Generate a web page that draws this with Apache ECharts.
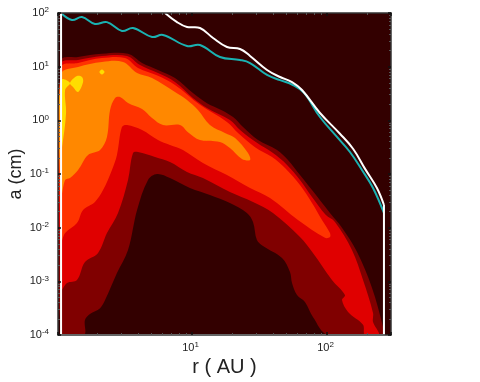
<!DOCTYPE html>
<html>
<head>
<meta charset="utf-8">
<style>
  html, body { margin: 0; padding: 0; background: #fff; }
  #chart { width: 480px; height: 382px; }
</style>
<script src="https://cdn.jsdelivr.net/npm/echarts@6/dist/echarts.min.js"></script>
</head>
<body>
<div id="chart"></div>
<script>
// all contours and curves are [log10 r, log10 a]
const level1 = [[0.03,-4],[0.03,1.11],[0.156,1.18],[0.333,1.24],[0.526,1.24],[0.63,1.07],[0.748,0.94],[0.874,0.79],[1.007,0.51],[1.111,0.32],[1.22,0.19],[1.304,0.06],[1.378,-0.125],[1.489,-0.367],[1.63,-0.553],[1.711,-0.739],[1.8,-1.02],[1.889,-1.3],[2.022,-1.726],[2.111,-2.0],[2.222,-2.45],[2.333,-3.12],[2.415,-3.85],[2.42,-4],[2.007,-4],[1.896,-3.665],[1.837,-3.385],[1.778,-3.255],[1.741,-3.03],[1.726,-2.826],[1.667,-2.565],[1.526,-2.34],[1.481,-2.23],[1.452,-1.894],[1.407,-1.726],[1.281,-1.54],[1.133,-1.39],[0.985,-1.26],[0.837,-1.074],[0.741,-1],[0.674,-1.11],[0.593,-1.67],[0.526,-2.416],[0.444,-2.845],[0.356,-3.35],[0.319,-3.5],[0.244,-3.61],[0.207,-3.72],[0.2,-4]]
const level2 = [[0.03,-3.16],[0.03,1.05],[0.156,1.124],[0.333,1.2],[0.519,1.2],[0.615,1.03],[0.748,0.88],[0.874,0.714],[1.007,0.416],[1.111,0.23],[1.281,0.006],[1.356,-0.18],[1.481,-0.42],[1.6,-0.61],[1.704,-0.83],[1.8,-1.11],[1.889,-1.43],[1.99,-1.76],[2.059,-1.894],[2.185,-2.416],[2.267,-2.975],[2.341,-3.59],[2.341,-3.76],[2.385,-4],[2.281,-4],[2.267,-3.81],[2.156,-3.57],[2.111,-3.35],[2.133,-3.255],[2.037,-2.975],[1.896,-2.47],[1.8,-2.175],[1.6,-1.726],[1.452,-1.52],[1.281,-1.335],[1.081,-1.074],[0.963,-0.962],[0.837,-0.776],[0.726,-0.683],[0.6,-0.59],[0.563,-0.61],[0.526,-1.11],[0.452,-1.726],[0.37,-2.1],[0.304,-2.47],[0.207,-2.64],[0.148,-2.975],[0.074,-3.03]]
const level3 = [[0.03,-2.27],[0.03,0.99],[0.156,1.07],[0.333,1.16],[0.504,1.16],[0.6,0.975],[0.748,0.83],[0.874,0.66],[1.059,0.29],[1.259,-0.03],[1.341,-0.236],[1.467,-0.5],[1.593,-0.683],[1.689,-0.888],[1.8,-1.205],[1.889,-1.54],[1.963,-1.857],[2.022,-2.1],[2.022,-2.175],[1.985,-2.19],[1.785,-1.857],[1.578,-1.447],[1.43,-1.26],[1.259,-1.02],[1.081,-0.795],[0.933,-0.553],[0.837,-0.46],[0.748,-0.367],[0.63,-0.18],[0.519,-0.087],[0.481,-0.125],[0.444,-0.646],[0.407,-0.925],[0.341,-1.3],[0.281,-1.52],[0.193,-1.67],[0.148,-1.913],[0.06,-2.1]]
const level4 = [[0.03,-1.43],[0.03,0.86],[0.156,0.994],[0.333,1.087],[0.489,1.087],[0.593,0.882],[0.704,0.789],[0.874,0.528],[0.963,0.38],[1.044,0.193],[1.133,-0.087],[1.244,-0.236],[1.319,-0.33],[1.415,-0.61],[1.43,-0.739],[1.37,-0.72],[1.281,-0.516],[1.207,-0.404],[1.059,-0.367],[0.97,-0.22],[0.911,-0.087],[0.785,-0.087],[0.704,0.044],[0.63,0.21],[0.526,0.323],[0.467,0.435],[0.43,0.416],[0.393,0.193],[0.37,-0.31],[0.319,-0.553],[0.23,-0.646],[0.156,-0.925],[0.096,-1.074],[0.06,-1.11]]
const level5Strip = [[0.03,0.75],[0.096,0.696],[0.06,0.565],[0.067,0.137],[0.037,-0.5],[0.03,-0.52]]
const level5Blob = [[0.096,0.696],[0.148,0.826],[0.185,0.807],[0.193,0.714],[0.156,0.528],[0.119,0.62]]
const level5Dot = [[0.314,0.9],[0.333,0.947],[0.352,0.9],[0.333,0.853]]

const whiteCurve = [[0.8,2],[0.889,1.83],[0.963,1.74],[1.059,1.72],[1.156,1.534],[1.259,1.366],[1.356,1.33],[1.43,1.2],[1.556,0.938],[1.652,0.807],[1.741,0.714],[1.815,0.565],[1.948,0.137],[2.096,-0.25],[2.193,-0.53],[2.281,-0.9],[2.37,-1.26],[2.422,-1.577]]
const whiteEdge = [[2.422,-1.577],[2.422,-4],[0.03,-4],[0.03,2]]
const cyanCurve = [[0.03,2],[0.111,1.87],[0.185,1.925],[0.281,1.795],[0.37,1.83],[0.481,1.665],[0.563,1.72],[0.704,1.553],[0.785,1.59],[0.963,1.385],[1.059,1.404],[1.207,1.18],[1.356,1.124],[1.43,1.068],[1.556,0.845],[1.652,0.75],[1.748,0.658],[1.83,0.51],[1.948,0.062],[2.074,-0.31],[2.17,-0.59],[2.259,-0.925],[2.341,-1.26],[2.422,-1.726]]

const levels = [
  { points: level1, color: '#800000' },
  { points: level2, color: '#e00000' },
  { points: level3, color: '#ff3300' },
  { points: level4, color: '#ff8800' },
  { points: level5Strip, color: '#ffdd00' },
  { points: level5Blob, color: '#ffdd00' },
  { points: level5Dot, color: '#ffdd00' }
]

const fromLog = p => [Math.pow(10, p[0]), Math.pow(10, p[1])]

function powerLabel (value) {
  const exp = Math.log10(value)
  if (Math.abs(exp - Math.round(exp)) > 1e-6) return ''
  return '10{sup|' + Math.round(exp) + '}'
}

function curveSeries (points, color, smooth, z) {
  return {
    type: 'custom',
    coordinateSystem: 'cartesian2d',
    silent: true,
    clip: true,
    z: z,
    data: [[10, 1]],
    renderItem: (params, api) => ({
      type: 'polyline',
      shape: { points: points.map(p => api.coord(fromLog(p))), smooth: smooth },
      style: { fill: 'none', stroke: color, lineWidth: 2 }
    })
  }
}

const tickLabel = {
  color: '#222',
  fontFamily: 'Liberation Sans',
  fontSize: 11,
  formatter: powerLabel,
  rich: { sup: { fontSize: 8, verticalAlign: 'bottom', padding: [0, 0, 6, 0], fontFamily: 'Liberation Sans', color: '#222' } }
}

const axisBase = {
  type: 'log',
  logBase: 10,
  z: 8,
  splitLine: { show: false },
  axisLine: { show: true, onZero: false, lineStyle: { color: '#333', width: 1.5 } },
  axisTick: { show: true, inside: true, length: 3, lineStyle: { color: '#111', width: 1.5 } },
  minorTick: { show: true, splitNumber: 9, length: 2, lineStyle: { color: '#555', width: 1 } }
}

const rMin = 1.017
const rMax = 298
const aMin = 1e-4
const aMax = 1e2

const chart = echarts.init(document.getElementById('chart'), null, { renderer: 'canvas' })
chart.setOption({
  animation: false,
  backgroundColor: '#fff',
  grid: {
    show: true,
    left: 58,
    right: 89,
    top: 13,
    bottom: 47,
    outerBoundsMode: 'none',
    backgroundColor: '#330000',
    borderWidth: 0
  },
  xAxis: [
    {
      ...axisBase,
      position: 'bottom',
      min: rMin,
      max: rMax,
      name: 'r ( AU )',
      nameLocation: 'middle',
      nameGap: 22,
      nameMoveOverlap: false,
      nameTextStyle: { fontFamily: 'Liberation Sans', fontSize: 20, color: '#222' },
      axisLabel: { ...tickLabel, margin: 6, padding: [0, 3, 0, 0] }
    },
    { ...axisBase, position: 'top', min: rMin, max: rMax, axisLabel: { show: false } }
  ],
  yAxis: [
    {
      ...axisBase,
      position: 'left',
      min: aMin,
      max: aMax,
      name: 'a (cm)',
      nameLocation: 'middle',
      nameGap: 33,
      nameMoveOverlap: false,
      nameTextStyle: { fontFamily: 'Liberation Sans', fontSize: 18, color: '#222' },
      axisLabel: { ...tickLabel, margin: 9 }
    },
    { ...axisBase, position: 'right', min: aMin, max: aMax, axisLabel: { show: false } }
  ],
  series: [
    ...levels.map(level => ({
      type: 'custom',
      coordinateSystem: 'cartesian2d',
      silent: true,
      clip: true,
      z: 2,
      data: [[10, 1]],
      renderItem: (params, api) => ({
        type: 'polygon',
        shape: { points: level.points.map(p => api.coord(fromLog(p))), smooth: 0.35 },
        style: { fill: level.color }
      })
    })),
    curveSeries(cyanCurve, '#1ab2b2', 0.4, 4),
    curveSeries(whiteCurve, '#fff', 0.4, 5),
    curveSeries(whiteEdge, '#fff', 0, 5)
  ]
})
</script>
</body>
</html>
